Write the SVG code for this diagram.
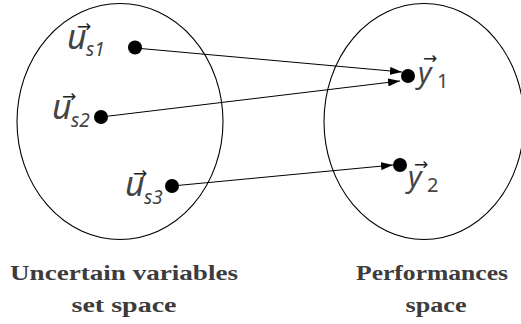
<svg xmlns="http://www.w3.org/2000/svg" width="521" height="324" viewBox="0 0 521 324">
<defs>
<style>
.set{fill:none;stroke:#000;stroke-width:1.1}
.pt{fill:#000}
.ln{stroke:#000;stroke-width:1;fill:none}
.m{font-family:"Noto Sans","Open Sans",sans-serif;font-style:italic;fill:#444}
.mv{font-size:34px}
.my{font-size:29px}
.ms{font-size:19px}
.up{font-style:normal;font-size:20px}
.vec{font-family:"DejaVu Sans",sans-serif;font-style:normal;font-size:17px;fill:#222}
.lab{font-family:"Liberation Serif","DejaVu Serif",serif;font-weight:bold;font-size:22px;fill:#3c3c3c;text-anchor:middle}
</style>
<marker id="ah" markerWidth="12" markerHeight="8" refX="12" refY="4" orient="auto" markerUnits="userSpaceOnUse">
<path d="M0,0 L12,4 L0,8 Z" fill="#000"/>
</marker>
</defs>
<g id="set-uncertain"><ellipse class="set" cx="120" cy="121.5" rx="103" ry="118"/></g>
<g id="set-performances"><ellipse class="set" cx="424" cy="121.5" rx="100" ry="118"/></g>
<g id="connectors">
<line class="ln" x1="135" y1="48" x2="402" y2="72" marker-end="url(#ah)"/>
<line class="ln" x1="101" y1="117" x2="400" y2="81" marker-end="url(#ah)"/>
<line class="ln" x1="172" y1="186" x2="393" y2="165" marker-end="url(#ah)"/>
</g>
<g id="node-us1">
<circle class="pt" cx="135" cy="47.5" r="7"/>
<text class="m"><tspan class="mv" x="67" y="49">u</tspan><tspan class="vec" x="77" y="32">→</tspan><tspan class="ms" x="86" y="56">s1</tspan></text>
</g>
<g id="node-us2">
<circle class="pt" cx="101" cy="117" r="7"/>
<text class="m"><tspan class="mv" x="52" y="119">u</tspan><tspan class="vec" x="62" y="102">→</tspan><tspan class="ms" x="71" y="127">s2</tspan></text>
</g>
<g id="node-us3">
<circle class="pt" cx="172" cy="186" r="7"/>
<text class="m"><tspan class="mv" x="125" y="196">u</tspan><tspan class="vec" x="133" y="179">→</tspan><tspan class="ms" x="144" y="204">s3</tspan></text>
</g>
<g id="node-y1">
<circle class="pt" cx="408" cy="76" r="7"/>
<text class="m"><tspan class="my" x="418" y="83">y</tspan><tspan class="vec" x="423" y="64">→</tspan><tspan class="up" x="437" y="88">1</tspan></text>
</g>
<g id="node-y2">
<circle class="pt" cx="400" cy="165" r="7"/>
<text class="m"><tspan class="my" x="408" y="187">y</tspan><tspan class="vec" x="414" y="170">→</tspan><tspan class="up" x="427" y="192">2</tspan></text>
</g>
<g id="label-uncertain">
<text class="lab" x="124" y="280" textLength="228" lengthAdjust="spacingAndGlyphs">Uncertain variables</text>
<text class="lab" x="124" y="312" textLength="105" lengthAdjust="spacingAndGlyphs">set space</text>
</g>
<g id="label-performances">
<text class="lab" x="432" y="280" textLength="152" lengthAdjust="spacingAndGlyphs">Performances</text>
<text class="lab" x="436" y="312" textLength="61" lengthAdjust="spacingAndGlyphs">space</text>
</g>
</svg>
